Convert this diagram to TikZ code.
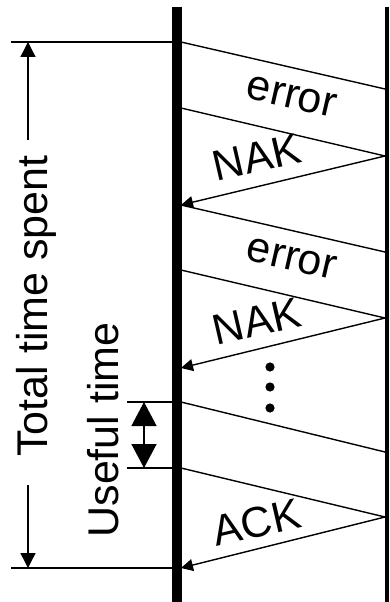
\documentclass[tikz,border=0pt]{standalone}
\usepackage{fontspec}
\setmainfont{Liberation Sans}
\usetikzlibrary{arrows.meta}
\begin{document}
\begin{tikzpicture}[x=1pt,y=-1pt,
  lbl/.style={font=\fontsize{43}{50}\selectfont, inner sep=0pt, anchor=base},
  thin/.style={line width=1.4pt},
  frame/.style={thin, -{Triangle[length=12pt,width=12pt]}},
  dimarrow/.style={thin, -{Triangle[length=15pt,width=15pt]}},
  usearrow/.style={thin, {Triangle[length=24pt,width=25pt]}-{Triangle[length=24pt,width=25pt]}},
  dotmark/.style={fill=black, draw=none},
]
\useasboundingbox (0,0) rectangle (389,602);

% timelines of sender (left) and receiver (right)
\coordinate (sTop) at (177,7);
\coordinate (sBot) at (177,602);
\coordinate (rTop) at (387,7);
\coordinate (rBot) at (387,602);
\draw[line width=9.4pt] (sTop) -- (sBot);
\draw[line width=4pt] (rTop) -- (rBot);

% end points of the frames on both timelines
\coordinate (a1) at (181,42);  \coordinate (b1) at (385,89);
\coordinate (a2) at (181,108); \coordinate (b2) at (385,156);
\coordinate (a3) at (181,205);
\coordinate (b4) at (385,252);
\coordinate (a5) at (181,270); \coordinate (b5) at (385,318);
\coordinate (a6) at (181,368);
\coordinate (a7) at (181,402); \coordinate (b7) at (385,452);
\coordinate (a8) at (181,468); \coordinate (b8) at (385,517);
\coordinate (a9) at (181,568);

% frames
\draw[thin] (a1) -- (b1);
\draw[thin] (a2) -- (b2);
\draw[frame] (b2) -- (a3);
\draw[thin] (a3) -- (b4);
\draw[thin] (a5) -- (b5);
\draw[frame] (b5) -- (a6);
\draw[thin] (a7) -- (b7);
\draw[thin] (a8) -- (b8);
\draw[frame] (b8) -- (a9);

% frame labels
\node[lbl, rotate=-12.9] (err1) at (289,108) {error};
\node[lbl, rotate=13]    (nak1) at (260,172) {NAK};
\node[lbl, rotate=-12.9] (err2) at (289,270) {error};
\node[lbl, rotate=13]    (nak2) at (260,336) {NAK};
\node[lbl, rotate=13]    (ack)  at (260,537) {ACK};

% ellipsis
\fill[dotmark] (270,367) circle (4.6);
\fill[dotmark] (270,387) circle (4.6);
\fill[dotmark] (270,408) circle (4.6);

% total time dimension
\coordinate (tL) at (11,42);   \coordinate (tR) at (177,42);
\coordinate (bL) at (11,568);  \coordinate (bR) at (177,568);
\draw[thin] (tL) -- (tR);
\draw[thin] (bL) -- (bR);
\coordinate (tArrTop) at (28,42);  \coordinate (tArrUp) at (28,140);
\coordinate (tArrBot) at (28,568); \coordinate (tArrLo) at (28,485);
\draw[dimarrow] (tArrUp) -- (tArrTop);
\draw[dimarrow] (tArrLo) -- (tArrBot);
\node[lbl, rotate=90] (total) at (47,306) {Total time spent};

% useful time dimension
\coordinate (uL) at (127,402); \coordinate (uR) at (177,402);
\coordinate (vL) at (127,468); \coordinate (vR) at (177,468);
\draw[thin] (uL) -- (uR);
\draw[thin] (vL) -- (vR);
\coordinate (uA) at (144,402); \coordinate (uB) at (144,468);
\draw[usearrow] (uA) -- (uB);
\node[lbl, rotate=90] (useful) at (118,430) {Useful time};
\end{tikzpicture}
\end{document}
